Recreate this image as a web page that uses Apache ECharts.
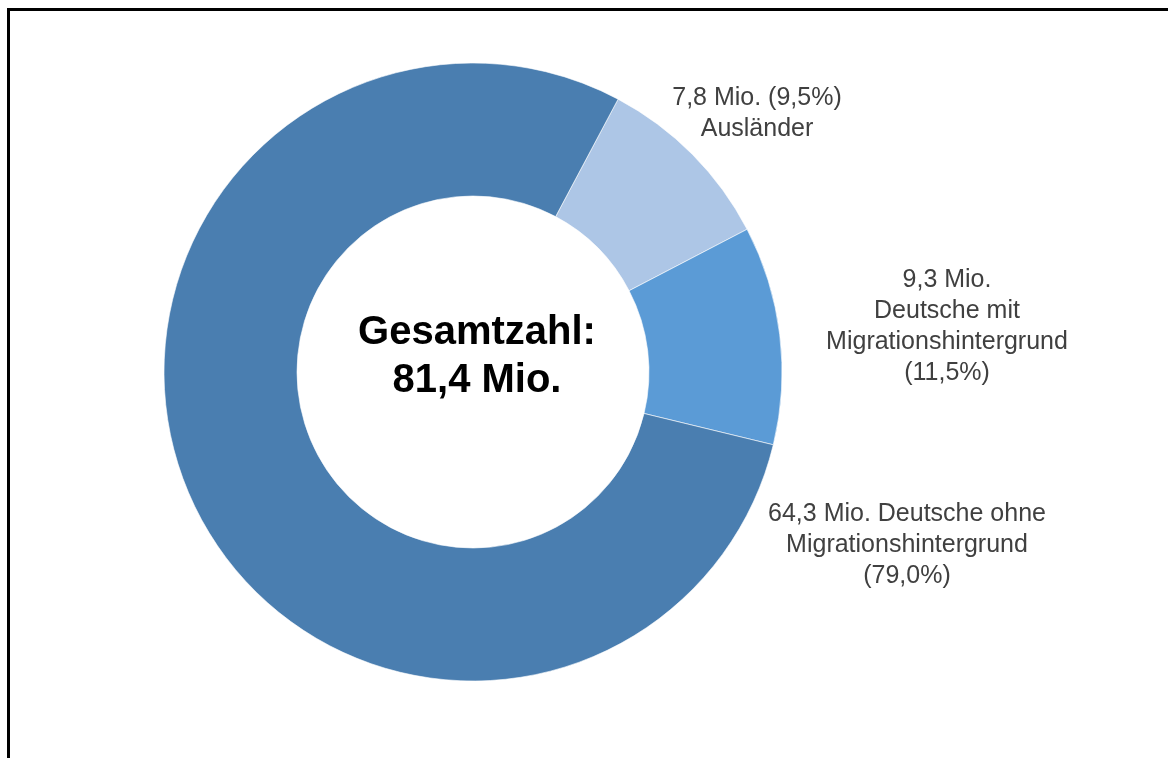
<!DOCTYPE html>
<html><head><meta charset="utf-8">
<script src="https://cdn.jsdelivr.net/npm/echarts@6/dist/echarts.min.js"></script>
<style>html,body{margin:0;padding:0;background:#fff}#c{width:1168px;height:758px}</style>
</head><body><div id="c"></div>
<script>
const categories = ['Ausländer', 'Deutsche mit Migrationshintergrund', 'Deutsche ohne Migrationshintergrund'];
const valuesMio = [7.8, 9.3, 64.3];
const sharesPct = ['9,5', '11,5', '79,0'];
const labelTexts = [
  '7,8 Mio. (9,5%)\nAusländer',
  '9,3 Mio.\nDeutsche mit\nMigrationshintergrund\n(11,5%)',
  '64,3 Mio. Deutsche ohne\nMigrationshintergrund\n(79,0%)'
];
const totalText = 'Gesamtzahl:\n81,4 Mio.';
const colors = ['#adc6e6', '#5b9bd6', '#4a7eb0'];
const labelPos = [[757, 114], [947, 327], [907, 545]];

const chart = echarts.init(document.getElementById('c'), null, {renderer: 'canvas'});
chart.setOption({
  animation: false,
  backgroundColor: '#fff',
  graphic: [
    {type: 'polyline', shape: {points: [[8.5, 758], [8.5, 9.5], [1168, 9.5]]}, style: {stroke: '#000', lineWidth: 3, fill: null}},
    {type: 'text', style: {
      text: totalText, x: 477, y: 357, align: 'center', verticalAlign: 'middle',
      font: 'bold 40px "Liberation Sans", Arial, sans-serif', lineHeight: 48, fill: '#000'
    }}
  ],
  series: [{
    type: 'pie',
    center: [473, 372],
    radius: [176, 309],
    startAngle: 62,
    clockwise: true,
    avoidLabelOverlap: false,
    itemStyle: {borderColor: '#fff', borderWidth: 0.6},
    emphasis: {disabled: true},
    label: {
      show: true, position: 'outside',
      formatter: p => labelTexts[p.dataIndex],
      fontFamily: '"Liberation Sans", Arial, sans-serif',
      fontSize: 25, lineHeight: 31, color: '#404040', align: 'center'
    },
    labelLine: {show: false},
    labelLayout: p => ({x: labelPos[p.dataIndex][0], y: labelPos[p.dataIndex][1], align: 'center', verticalAlign: 'middle'}),
    data: categories.map((c, i) => ({name: c, value: valuesMio[i], itemStyle: {color: colors[i]}}))
  }]
});
</script></body></html>
